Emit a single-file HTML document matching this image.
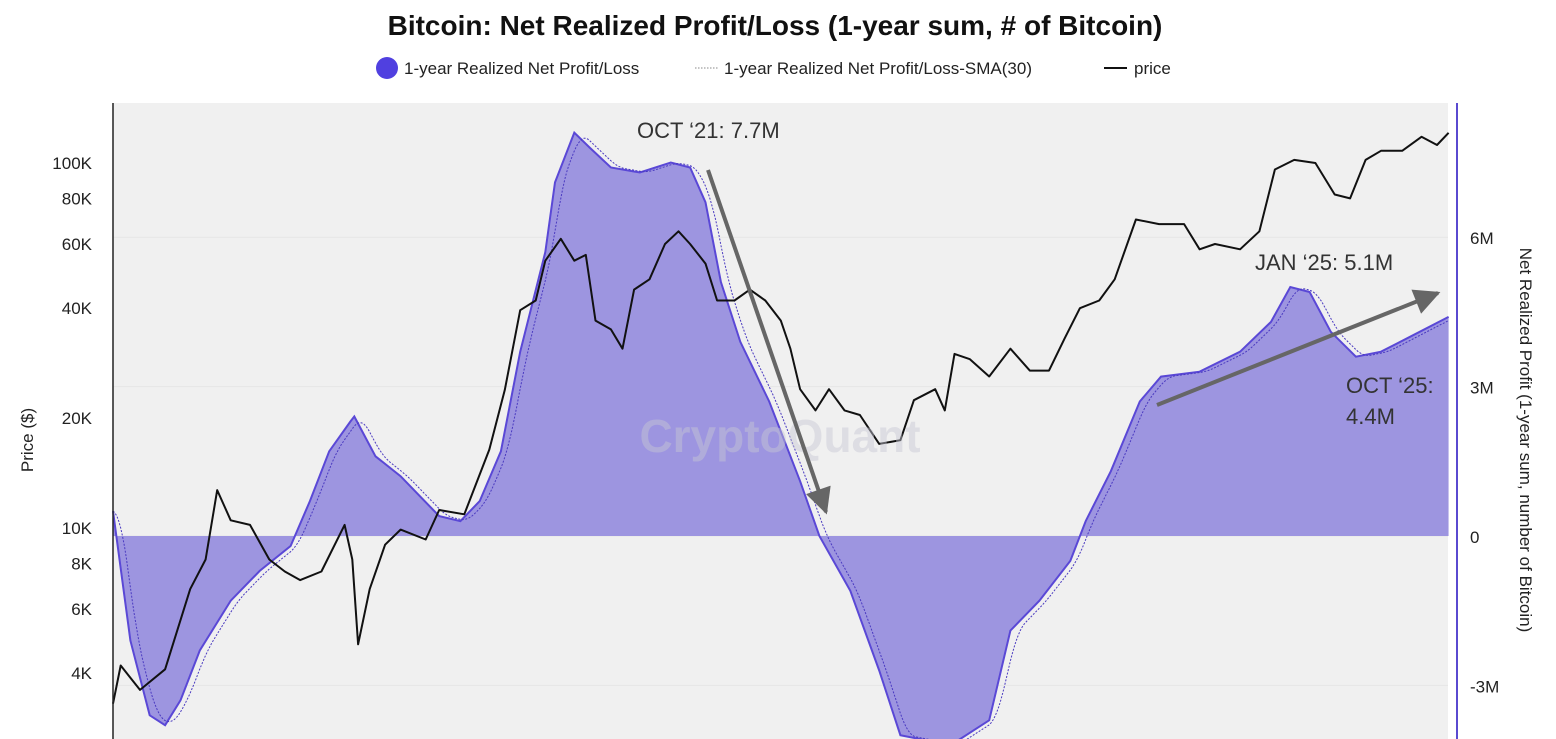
<!DOCTYPE html>
<html><head><meta charset="utf-8"><style>
body{margin:0;background:#fff;width:1556px;height:739px;overflow:hidden;font-family:"Liberation Sans",sans-serif;}
svg{display:block}
</style></head><body>
<svg id="chart" width="1556" height="739" xmlns="http://www.w3.org/2000/svg">
<text x="775" y="35" text-anchor="middle" font-size="28" font-weight="bold" fill="#111">Bitcoin: Net Realized Profit/Loss (1-year sum, # of Bitcoin)</text>
<g>
<g><circle cx="387" cy="68" r="11" fill="#5040e0"/><text x="404" y="74" font-size="17" fill="#222">1-year Realized Net Profit/Loss</text></g>
<g><line x1="695" y1="68" x2="718" y2="68" stroke="#888" stroke-dasharray="1.5,1.5"/><text x="724" y="74" font-size="17" fill="#222">1-year Realized Net Profit/Loss-SMA(30)</text></g>
<g><line x1="1104" y1="68" x2="1127" y2="68" stroke="#111" stroke-width="2"/><text x="1134" y="74" font-size="17" fill="#222">price</text></g>
</g>
<rect x="113" y="103" width="1335" height="636" fill="#f0f0f0"/>
<g id="grid"></g>
<g id="series"></g>
<text x="780" y="452" text-anchor="middle" font-size="46" font-weight="bold" fill="#c8c8d4" opacity="0.45">CryptoQuant</text>
<line x1="113" y1="103" x2="113" y2="739" stroke="#222" stroke-width="1.5"/>
<line x1="1457" y1="103" x2="1457" y2="739" stroke="#5a4ad0" stroke-width="2"/>
<g id="axes"></g>
<text transform="translate(33,440) rotate(-90)" text-anchor="middle" font-size="17" fill="#222">Price ($)</text>
<text transform="translate(1520,440) rotate(90)" text-anchor="middle" font-size="17" fill="#222">Net Realized Profit (1-year sum, number of Bitcoin)</text>
<g font-size="22" fill="#333">
<text x="637" y="138">OCT ‘21: 7.7M</text>
<text x="1255" y="270">JAN ‘25: 5.1M</text>
<text x="1346" y="393">OCT ‘25:</text>
<text x="1346" y="424">4.4M</text>
</g>
<defs>
<marker id="ah2" viewBox="0 0 10 10" markerWidth="30" markerHeight="26" refX="9" refY="5" orient="auto" markerUnits="userSpaceOnUse"><path d="M0,0 L10,5 L0,10 z" fill="#666"/></marker></defs>
<line x1="708" y1="170" x2="826" y2="512" stroke="#666" stroke-width="4" marker-end="url(#ah2)"/>
<line x1="1157" y1="405" x2="1438" y2="293" stroke="#666" stroke-width="4" marker-end="url(#ah2)"/>
</svg>
<script>
const profitT=[2018.92,2019.01,2019.11,2019.19,2019.27,2019.37,2019.53,2019.68,2019.84,2019.94,2020.04,2020.15,2020.17,2020.28,2020.41,2020.51,2020.61,2020.72,2020.82,2020.93,2021.03,2021.16,2021.21,2021.31,2021.39,2021.50,2021.65,2021.81,2021.91,2021.99,2022.07,2022.17,2022.32,2022.48,2022.58,2022.74,2022.89,2023.00,2023.26,2023.46,2023.57,2023.72,2023.88,2023.96,2024.09,2024.24,2024.35,2024.55,2024.76,2024.92,2025.02,2025.12,2025.23,2025.36,2025.49,2025.64,2025.84];
const profitM=[0.5,-2.1,-3.6,-3.8,-3.3,-2.3,-1.3,-0.7,-0.2,0.7,1.7,2.3,2.4,1.6,1.2,0.8,0.4,0.3,0.7,1.7,3.7,5.7,7.1,8.1,7.8,7.4,7.3,7.5,7.4,6.7,5.1,3.9,2.7,1.1,0,-1.1,-2.7,-4,-4.2,-3.7,-1.9,-1.3,-0.5,0.3,1.3,2.7,3.2,3.3,3.7,4.3,5.0,4.9,4.1,3.6,3.7,4.0,4.4];
const priceT=[2018.92,2018.96,2019.06,2019.19,2019.32,2019.40,2019.46,2019.53,2019.63,2019.73,2019.81,2019.89,2020.00,2020.12,2020.16,2020.19,2020.25,2020.33,2020.41,2020.54,2020.61,2020.74,2020.87,2020.95,2021.03,2021.11,2021.16,2021.24,2021.31,2021.37,2021.42,2021.50,2021.56,2021.62,2021.70,2021.78,2021.85,2021.91,2021.99,2022.05,2022.14,2022.22,2022.30,2022.38,2022.43,2022.48,2022.56,2022.63,2022.71,2022.79,2022.89,2023.00,2023.07,2023.18,2023.23,2023.28,2023.36,2023.46,2023.57,2023.67,2023.77,2023.85,2023.93,2024.03,2024.11,2024.22,2024.34,2024.47,2024.55,2024.63,2024.76,2024.86,2024.94,2025.04,2025.15,2025.25,2025.33,2025.41,2025.49,2025.60,2025.70,2025.78,2025.84];
const priceK=[3.3,4.2,3.6,4.1,6.8,8.2,12.7,10.5,10.2,8.2,7.6,7.2,7.6,10.2,8.2,4.8,6.8,9.0,9.9,9.3,11.2,10.9,16.4,23.9,39.5,42,54,62,54,56,37,35,31,45,48,60,65,60,53,42,42,45,42,37,31,24,21,24,21,20.4,17,17.4,22.4,24,21,30,29,26,31,27,27,33,40,42,48,70,68,68,58,60,58,65,96,102,100,82,80,102,108,108,118,112,121];
const leftTickVals=[4,6,8,10,20,40,60,80,100];
const leftTickLabels=["4K","6K","8K","10K","20K","40K","60K","80K","100K"];
const rightTickVals=[-3,0,3,6];
const rightTickLabels=["-3M","0","3M","6M"];
const NS="http://www.w3.org/2000/svg";
const xS=t=>113+(t-2018.92)*193;
const yR=v=>536-v*49.8;
const yL=p=>528-Math.log10(p/10)*365;
function interp(T,V,t){if(t<=T[0])return V[0];for(let i=1;i<T.length;i++){if(t<=T[i]){const f=(t-T[i-1])/(T[i]-T[i-1]);return V[i-1]+f*(V[i]-V[i-1]);}}return V[V.length-1];}
function mk(tag,attrs,parent){const e=document.createElementNS(NS,tag);for(const k in attrs)e.setAttribute(k,attrs[k]);parent.appendChild(e);return e;}
const gridG=document.getElementById('grid'),seriesG=document.getElementById('series'),axesG=document.getElementById('axes');
rightTickVals.forEach((v,i)=>{
 const g=mk('line',{x1:113,x2:1448,y1:yR(v),y2:yR(v),stroke:'#e6e6e6','stroke-width':1},gridG);
 
 
 const t=mk('text',{x:1470,y:yR(v)+7,'font-size':17,fill:'#222'},axesG);t.textContent=rightTickLabels[i];
 
 
});
leftTickVals.forEach((v,i)=>{
 const t=mk('text',{x:92,y:yL(v)+6,'font-size':17,fill:'#222','text-anchor':'end'},axesG);t.textContent=leftTickLabels[i];
 
 
});
const topPts=profitT.map((t,i)=>xS(t).toFixed(1)+','+yR(profitM[i]).toFixed(1));
const area=mk('path',{d:'M'+xS(profitT[0])+','+yR(0)+' L'+topPts.join(' L')+' L'+xS(profitT[profitT.length-1])+','+yR(0)+' Z',fill:'#9d95e0'},seriesG);


const pline=mk('polyline',{points:topPts.join(' '),fill:'none',stroke:'#5a48d6','stroke-width':2},seriesG);


const sma=[];for(let t=profitT[0];t<=profitT[profitT.length-1]+1e-9;t+=0.01){let s=0,n=0;for(let d=0;d<30;d+=3){s+=interp(profitT,profitM,t-d/365);n++;}sma.push(xS(t).toFixed(1)+','+yR(s/n).toFixed(1));}
const sl=mk('polyline',{points:sma.join(' '),fill:'none',stroke:'#4a3ac0','stroke-width':1,'stroke-dasharray':'2,1.5'},seriesG);


const prl=mk('polyline',{points:priceT.map((t,i)=>xS(t).toFixed(1)+','+yL(priceK[i]).toFixed(1)).join(' '),fill:'none',stroke:'#111','stroke-width':2,'stroke-linejoin':'round'},seriesG);


</script>
</body></html>
